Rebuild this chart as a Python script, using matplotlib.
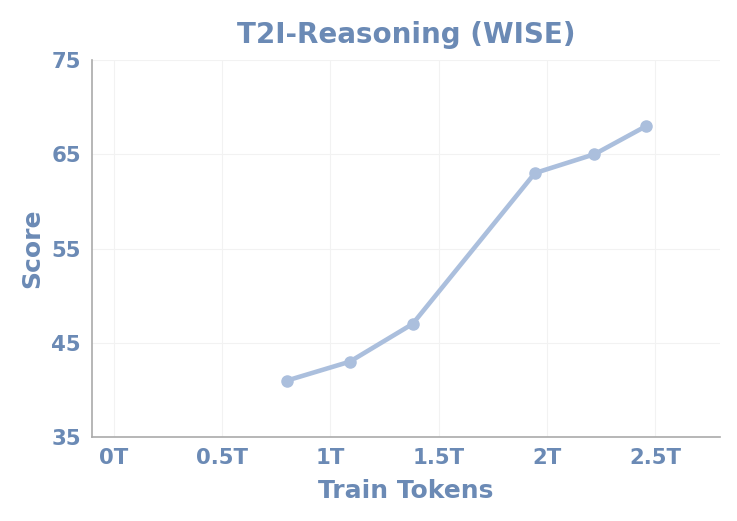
import matplotlib
matplotlib.use("Agg")
import matplotlib.pyplot as plt

tokens = [0.80, 1.09, 1.38, 1.945, 2.22, 2.46]
scores = [41, 43, 47, 63, 65, 68]
xticks = [0, 0.5, 1.0, 1.5, 2.0, 2.5]
xtick_labels = ["0T", "0.5T", "1T", "1.5T", "2T", "2.5T"]
yticks = [35, 45, 55, 65, 75]

text_color = "#6b8ab5"
line_color = "#abbfdd"

fig = plt.figure(figsize=(7.37, 5.21), dpi=100)
ax = fig.add_axes([0.125, 0.161, 0.852, 0.724])
ax.plot(tokens, scores, color=line_color, linewidth=3.3, marker="o", markersize=8)
ax.set_xlim(-0.1, 2.8)
ax.set_ylim(35, 75)
ax.set_xticks(xticks)
ax.set_xticklabels(xtick_labels)
ax.set_yticks(yticks)
ax.grid(True, color="#f2f2f2", linewidth=0.8)
ax.set_axisbelow(True)
for s in ["top", "right"]:
    ax.spines[s].set_visible(False)
for s in ["left", "bottom"]:
    ax.spines[s].set_color("#aaaaaa")
    ax.spines[s].set_linewidth(1.2)
ax.tick_params(length=0, pad=8, labelsize=15.3, labelcolor=text_color)
for lab in ax.get_xticklabels() + ax.get_yticklabels():
    lab.set_fontweight("bold")
ax.set_xlabel("Train Tokens", fontsize=18, fontweight="bold", color=text_color, labelpad=8)
ax.set_ylabel("Score", fontsize=18, fontweight="bold", color=text_color, labelpad=5)
ax.set_title("T2I-Reasoning (WISE)", fontsize=20, fontweight="bold", color=text_color, pad=12)
fig.savefig("out.png", dpi=100)
